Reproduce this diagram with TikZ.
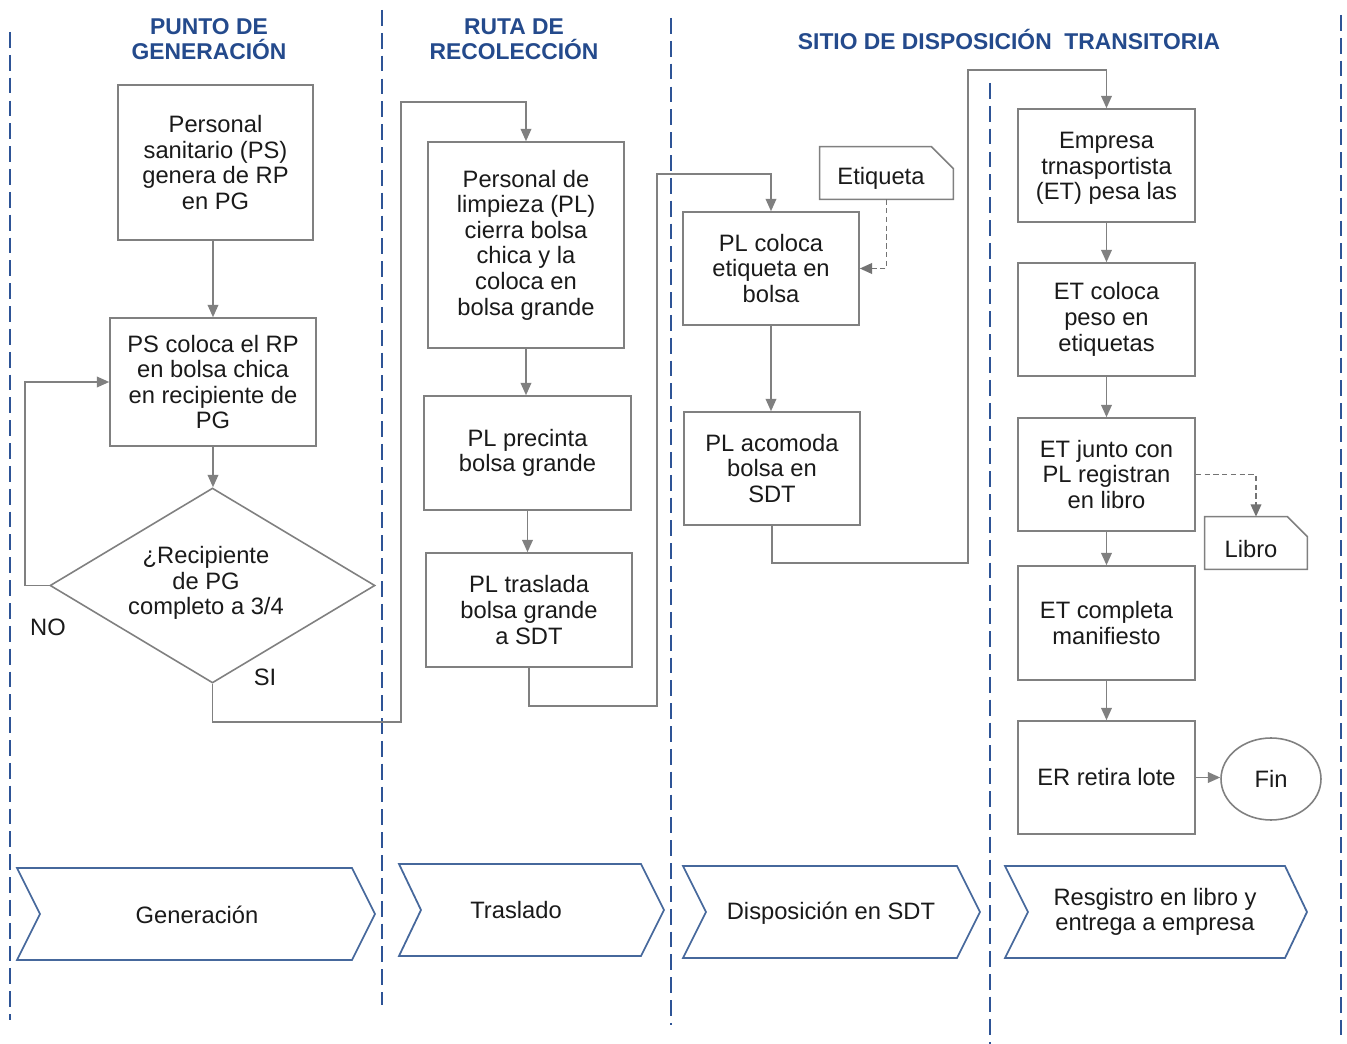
\documentclass[tikz,border=0pt]{standalone}
\usepackage{fontspec}
\setmainfont{Liberation Sans}
\usetikzlibrary{shapes.geometric,arrows.meta}
\definecolor{lane}{RGB}{46,84,150}
\definecolor{head}{RGB}{36,74,140}
\definecolor{edge}{RGB}{128,128,128}
\definecolor{ink}{RGB}{26,26,26}
\definecolor{chev}{RGB}{70,104,156}
\tikzset{
  every node/.style={font=\fontsize{13.5}{14.6}\selectfont, text=ink},
  lanesep/.style={draw=lane, line width=1.1pt, dash pattern=on 9pt off 4pt},
  header/.style={font=\fontsize{13}{14.5}\selectfont\bfseries, text=head, align=center},
  stepbox/.style={draw=edge, line width=0.9pt, align=center, inner sep=2pt, fill=white},
  decision/.style={diamond, draw=edge, line width=0.9pt, inner sep=0pt},
  docbox/.style={inner sep=0pt},
  docline/.style={draw=edge, line width=0.9pt, fill=white},
  endnode/.style={ellipse, draw=edge, line width=0.9pt, inner sep=0pt},
  arr/.style={draw=edge, line width=1pt, -{Triangle[length=7pt,width=6pt]}},
  dasharr/.style={draw=edge!90!black, line width=1.1pt, dash pattern=on 3pt off 2pt, -{Triangle[length=7pt,width=6pt]}},
  phase/.style={draw=chev, line width=1pt},
}
\begin{document}
\begin{tikzpicture}[x=0.02cm, y=-0.02cm]
% canvas
\path[fill=white] (0,0) rectangle (1347,1044);
\useasboundingbox (0,0) rectangle (1347,1044);

% lane separators
\draw[lanesep] (10,32) -- (10,1020);
\draw[lanesep] (382,10) -- (382,1005);
\draw[lanesep] (671,18) -- (671,1025);
\draw[lanesep] (990,83) -- (990,1044);
\draw[lanesep] (1341,15) -- (1341,1035);

% lane headers
\node[header] (h1) at (209,39) {PUNTO DE\\GENERACIÓN};
\node[header] (h2) at (514,39) {RUTA DE\\RECOLECCIÓN};
\node[header] (h3) at (1009,39) {SITIO DE DISPOSICIÓN\ \ TRANSITORIA};

% lane 1: generation point
\node[stepbox, minimum width=3.9cm, minimum height=3.1cm] (b1) at (215.5,162.5)
  {Personal\\sanitario (PS)\\genera de RP\\en PG};
\node[stepbox, minimum width=4.12cm, minimum height=2.56cm] (b2) at (213,382)
  {PS coloca el RP\\en bolsa chica\\en recipiente de\\PG};
\node[decision, minimum width=6.5cm, minimum height=3.9cm] (d) at (212.5,585.5) {};
\node[align=center] (dt) at (206,583) {¿Recipiente\\de PG\\completo a 3/4};
\node (no) at (48,627) {NO};
\node (si) at (265,677) {SI};

% lane 2: collection route
\node[stepbox, minimum width=3.92cm, minimum height=4.12cm] (b3) at (526,245)
  {Personal de\\limpieza (PL)\\cierra bolsa\\chica y la\\coloca en\\bolsa grande};
\node[stepbox, minimum width=4.14cm, minimum height=2.28cm] (b4) at (527.5,453)
  {PL precinta\\bolsa grande};
\node[stepbox, minimum width=4.12cm, minimum height=2.28cm] (b5) at (529,610)
  {PL traslada\\bolsa grande\\a SDT};

% lane 3: temporary storage
\node[docbox, minimum width=2.66cm, minimum height=1.04cm] (etq) at (886.5,173) {};
\draw[docline] (etq.south west) -- (etq.north west) -- ([xshift=-0.44cm]etq.north east)
  -- ([yshift=-0.44cm]etq.north east) -- (etq.south east) -- cycle;
\node (etqt) at (881,178) {Etiqueta};
\node[stepbox, minimum width=3.52cm, minimum height=2.26cm] (b6) at (771,268.5)
  {PL coloca\\etiqueta en\\bolsa};
\node[stepbox, minimum width=3.52cm, minimum height=2.26cm] (b7) at (772,468.5)
  {PL acomoda\\bolsa en\\SDT};

% lane 4: registration and delivery
\node[stepbox, minimum width=3.54cm, minimum height=2.26cm] (b8) at (1106.5,165.5) {};
\node[align=center] (b8t) at (1106.5,168.5) {Empresa\\trnasportista\\(ET) pesa las};
\node[stepbox, minimum width=3.54cm, minimum height=2.26cm] (b9) at (1106.5,319.5)
  {ET coloca\\peso en\\etiquetas};
\node[stepbox, minimum width=3.54cm, minimum height=2.26cm] (b10) at (1106.5,474.5)
  {ET junto con\\PL registran\\en libro};
\node[docbox, minimum width=2.04cm, minimum height=1.04cm] (lib) at (1256,543) {};
\draw[docline] (lib.south west) -- (lib.north west) -- ([xshift=-0.4cm]lib.north east)
  -- ([yshift=-0.4cm]lib.north east) -- (lib.south east) -- cycle;
\node (libt) at (1251,549) {Libro};
\node[stepbox, minimum width=3.54cm, minimum height=2.28cm] (b11) at (1106.5,623)
  {ET completa\\manifiesto};
\node[stepbox, minimum width=3.54cm, minimum height=2.26cm] (b12) at (1106.5,777.5)
  {ER retira lote};
\node[endnode, minimum width=2cm, minimum height=1.64cm] (fin) at (1271,779) {Fin};

% flow connectors
\draw[arr] (b2.north |- b1.south) -- (b2.north);
\draw[arr] (b2.south) -- (d.north -| b2.south);
\draw[arr] (d.west) -- (25,585.5) |- (b2.west);
\draw[arr] (d.south) |- (401,722) -- (401,102) -| (b3.north);
\draw[arr] (b3.south) -- (b4.north -| b3.south);
\draw[arr] (b4.south) -- (b5.north -| b4.south);
\draw[arr] (b5.south) |- (657,706) -- (657,174) -| (b6.north);
\draw[dasharr] (etq.south) |- (b6.east);
\draw[arr] (b6.south) -- (b7.north -| b6.south);
\draw[arr] (b7.south) |- (968,563) -- (968,70) -| (b8.north);
\draw[arr] (b8.south) -- (b9.north);
\draw[arr] (b9.south) -- (b10.north);
\draw[dasharr] (b10.east) -| (lib.north);
\draw[arr] (b10.south) -- (b11.north);
\draw[arr] (b11.south) -- (b12.north);
\draw[arr] (b12.east) -- (b12.east -| fin.west);

% phase chevrons
\draw[phase] (17,868) -- (352,868) -- (375,914) -- (352,960) -- (17,960) -- (40,914) -- cycle;
\node (p1) at (197,915) {Generación};
\draw[phase] (399,864) -- (641,864) -- (664,910) -- (641,956) -- (399,956) -- (421,910) -- cycle;
\node (p2) at (516,910) {Traslado};
\draw[phase] (683,866) -- (957,866) -- (980,912) -- (957,958) -- (683,958) -- (706,912) -- cycle;
\node (p3) at (831,913) {Disposición en SDT};
\draw[phase] (1005,866) -- (1285,866) -- (1307,912) -- (1285,958) -- (1005,958) -- (1028,912) -- cycle;
\node[align=center] (p4) at (1155,912) {Resgistro en libro y\\entrega a empresa};
\end{tikzpicture}
\end{document}
